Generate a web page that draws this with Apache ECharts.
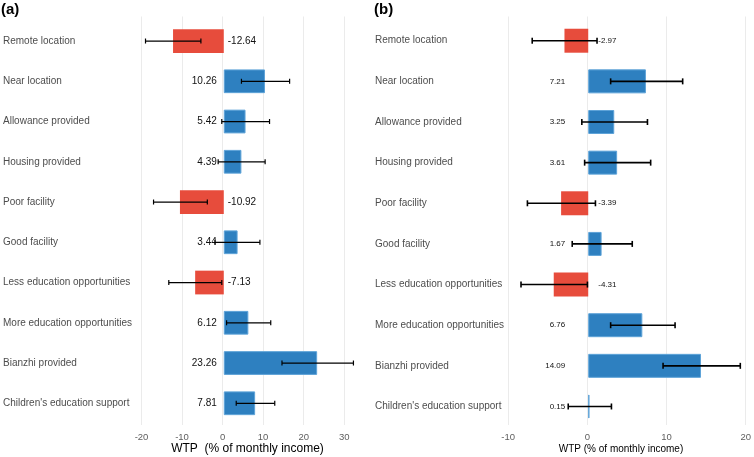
<!DOCTYPE html>
<html>
<head>
<meta charset="utf-8">
<script src="https://cdn.jsdelivr.net/npm/echarts@6/dist/echarts.min.js"></script>
<style>
html,body{margin:0;padding:0;background:#fff;}
#chart{width:754px;height:457px;}
</style>
</head>
<body>
<div id="chart"></div>
<script>
var categories = ["Remote location","Near location","Allowance provided","Housing provided","Poor facility","Good facility","Less education opportunities","More education opportunities","Bianzhi provided","Children's education support"];

var wtpA  = [-12.64, 10.26, 5.42, 4.39, -10.92, 3.44, -7.13, 6.12, 23.26, 7.81];
var lowA  = [-19.5, 4.4, -0.5, -1.4, -17.5, -2.2, -13.7, 0.7, 14.5, 3.1];
var highA = [-5.7, 16.4, 11.4, 10.3, -4.1, 9.0, -0.5, 11.7, 32.3, 12.7];

var wtpB  = [-2.97, 7.21, 3.25, 3.61, -3.39, 1.67, -4.31, 6.76, 14.09, 0.15];
var lowB  = [-7.0, 2.8, -0.8, -0.45, -7.6, -2.0, -8.4, 2.8, 9.35, -2.5];
var highB = [1.1, 11.8, 7.4, 7.8, 0.9, 5.5, -0.1, 10.85, 19.0, 2.9];

var ticksA = {min: -20, max: 30, interval: 10};
var ticksB = {min: -10, max: 20, interval: 10};

var FONT = '"Liberation Sans", Arial, Helvetica, sans-serif';
var RED = '#E74C3C', BLUE = '#2E80C0';

function barData(vals, posDist, negDist) {
  return vals.map(function (v) {
    var pos = v >= 0;
    return {
      value: v,
      itemStyle: pos ? {color: BLUE, borderColor: '#5EA3D8', borderWidth: 1} : {color: RED},
      label: {position: pos ? 'left' : 'right', distance: pos ? posDist : negDist}
    };
  });
}
function errData(lo, hi) {
  return lo.map(function (l, i) { return [l, hi[i], i]; });
}
function errRender(capH, lw) {
  return function (params, api) {
    var i = api.value(2);
    var p1 = api.coord([api.value(0), i]);
    var p2 = api.coord([api.value(1), i]);
    var st = {stroke: '#000', lineWidth: lw};
    return {type: 'group', children: [
      {type: 'line', shape: {x1: p1[0], y1: p1[1], x2: p2[0], y2: p2[1]}, style: st},
      {type: 'line', shape: {x1: p1[0], y1: p1[1] - capH, x2: p1[0], y2: p1[1] + capH}, style: st},
      {type: 'line', shape: {x1: p2[0], y1: p2[1] - capH, x2: p2[0], y2: p2[1] + capH}, style: st}
    ]};
  };
}

var gridA = {left: 141.5, right: 754 - 344.2};
var gridB = {left: 508.2, right: 754 - 748.3};

var option = {
  animation: false,
  textStyle: {fontFamily: FONT},
  grid: [
    {left: gridA.left, right: gridA.right, top: 20.9, bottom: 33.6},
    {left: gridA.left, right: gridA.right, top: 16.5, bottom: 32},
    {left: gridB.left, right: gridB.right, top: 20.4, bottom: 30.2},
    {left: gridB.left, right: gridB.right, top: 16.5, bottom: 32}
  ],
  xAxis: [
    {gridIndex: 0, type: 'value', min: ticksA.min, max: ticksA.max, interval: ticksA.interval, show: false},
    {gridIndex: 1, type: 'value', min: ticksA.min, max: ticksA.max, interval: ticksA.interval,
     axisLine: {show: false}, axisTick: {show: false},
     axisLabel: {color: '#5e5e5e', fontSize: 9.5, margin: 7, fontFamily: FONT},
     splitLine: {show: true, lineStyle: {color: '#EBEBEB', width: 1}}},
    {gridIndex: 2, type: 'value', min: ticksB.min, max: ticksB.max, interval: ticksB.interval, show: false},
    {gridIndex: 3, type: 'value', min: ticksB.min, max: ticksB.max, interval: ticksB.interval,
     axisLine: {show: false}, axisTick: {show: false},
     axisLabel: {color: '#5e5e5e', fontSize: 9.5, margin: 7, fontFamily: FONT},
     splitLine: {show: true, lineStyle: {color: '#EBEBEB', width: 1}}}
  ],
  yAxis: [
    {gridIndex: 0, type: 'category', data: categories, inverse: true,
     axisLine: {show: false}, axisTick: {show: false}, splitLine: {show: false},
     axisLabel: {align: 'left', margin: 140.5, color: '#4D4D4D', fontSize: 10, fontFamily: FONT}},
    {gridIndex: 1, type: 'value', show: false, min: 0, max: 1},
    {gridIndex: 2, type: 'category', data: categories, inverse: true,
     axisLine: {show: false}, axisTick: {show: false}, splitLine: {show: false},
     axisLabel: {align: 'left', margin: 133.2, color: '#4D4D4D', fontSize: 10, fontFamily: FONT}},
    {gridIndex: 3, type: 'value', show: false, min: 0, max: 1}
  ],
  graphic: [
    {type: 'text', left: 1, top: 2, style: {text: '(a)', font: 'bold 15px ' + FONT, fill: '#000'}},
    {type: 'text', left: 374, top: 2, style: {text: '(b)', font: 'bold 15px ' + FONT, fill: '#000'}},
    {type: 'text', x: 247.5, y: 449, style: {text: 'WTP  (% of monthly income)', font: '12px ' + FONT, fill: '#000', align: 'center', verticalAlign: 'middle'}},
    {type: 'text', x: 621, y: 449, style: {text: 'WTP (% of monthly income)', font: '10px ' + FONT, fill: '#000', align: 'center', verticalAlign: 'middle'}}
  ],
  series: [
    {type: 'bar', xAxisIndex: 0, yAxisIndex: 0, barWidth: '59%', data: barData(wtpA, 7, 4),
     label: {show: true, color: '#111', fontSize: 10, fontFamily: FONT,
             formatter: function (p) { return p.value.toFixed(2); }}},
    {type: 'custom', xAxisIndex: 0, yAxisIndex: 0, clip: false, z: 5,
     encode: {x: [0, 1], y: 2}, data: errData(lowA, highA), renderItem: errRender(2.5, 1.2)},
    {type: 'bar', xAxisIndex: 2, yAxisIndex: 2, barWidth: '59%', data: barData(wtpB, 23, 10),
     label: {show: true, color: '#111', fontSize: 8, fontFamily: FONT,
             formatter: function (p) { return p.value.toFixed(2); }}},
    {type: 'custom', xAxisIndex: 2, yAxisIndex: 2, clip: false, z: 5,
     encode: {x: [0, 1], y: 2}, data: errData(lowB, highB), renderItem: errRender(3, 1.6)}
  ]
};

var chart = echarts.init(document.getElementById('chart'), null, {renderer: 'canvas'});
chart.setOption(option);
</script>
</body>
</html>
